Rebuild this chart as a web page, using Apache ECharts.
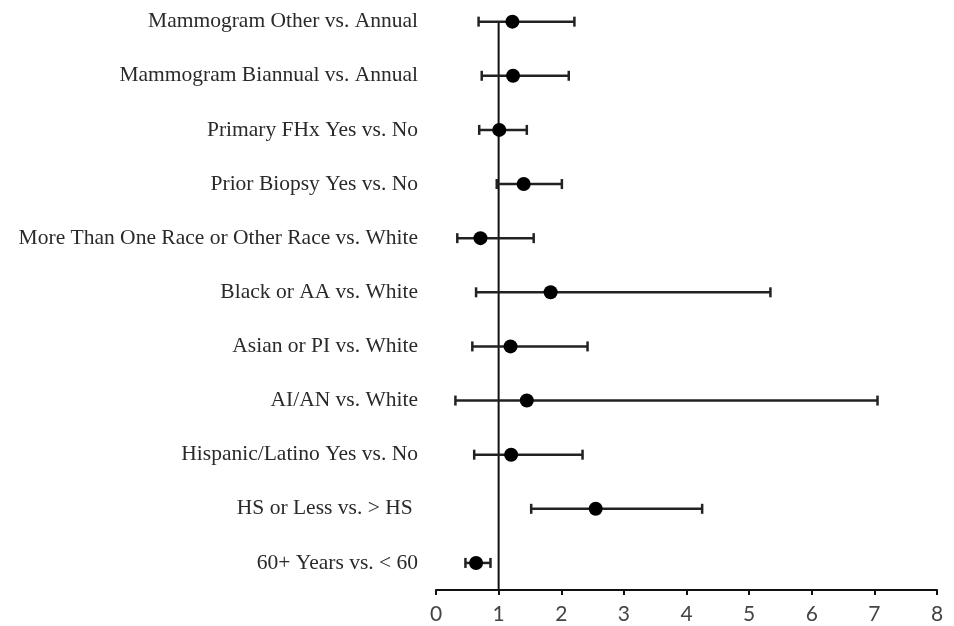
<!DOCTYPE html>
<html>
<head>
<meta charset="utf-8">
<script src="https://cdn.jsdelivr.net/npm/echarts@6/dist/echarts.min.js"></script>
<style>
html, body { margin: 0; padding: 0; background: #fff; }
#main { width: 954px; height: 626px; }
</style>
</head>
<body>
<div id="main"></div>
<script>
// 类别（从上到下）
var categories = [
	'Mammogram Other vs. Annual',
	'Mammogram Biannual vs. Annual',
	'Primary FHx Yes vs. No',
	'Prior Biopsy Yes vs. No',
	'More Than One Race or Other Race vs. White',
	'Black or AA vs. White',
	'Asian or PI vs. White',
	'AI/AN vs. White',
	'Hispanic/Latino Yes vs. No',
	'HS or Less vs. > HS ',
	'60+ Years vs. < 60'
];
// 点估计
var oddsRatio = [1.22, 1.23, 1.01, 1.40, 0.71, 1.83, 1.19, 1.45, 1.20, 2.55, 0.64];
// 置信区间
var lowerCI = [0.68, 0.73, 0.69, 0.97, 0.34, 0.64, 0.58, 0.31, 0.61, 1.52, 0.47];
var upperCI = [2.21, 2.12, 1.45, 2.01, 1.56, 5.34, 2.42, 7.05, 2.34, 4.25, 0.87];
// 参考线
var refValue = 1;
var xTicks = [0, 1, 2, 3, 4, 5, 6, 7, 8];

var rowIdx = [];
var errData = [];
var dotData = [];
for (var i = 0; i < categories.length; i++) {
	rowIdx.push(i);
	errData.push([lowerCI[i], upperCI[i], i]);
	dotData.push([oddsRatio[i], i]);
}

var myChart = echarts.init(document.getElementById('main'));
var option = {
	animation : false,
	backgroundColor : '#ffffff',
	grid : {
		left : 436,
		right : 17,
		top : 0,
		bottom : 36
	},
	xAxis : {
		type : 'value',
		position : 'bottom',
		min : xTicks[0],
		max : xTicks[xTicks.length - 1],
		interval : 1,
		splitLine : { show : false },
		axisLine : { show : true, onZero : false, lineStyle : { color : '#111', width : 2 } },
		axisTick : { show : true, length : 5, lineStyle : { color : '#111', width : 2 } },
		axisLabel : {
			margin : 14,
			color : '#444',
			fontSize : 21,
			fontFamily : 'Lato'
		}
	},
	yAxis : {
		type : 'value',
		inverse : true,
		min : -0.4,
		max : 10.5,
		axisLine : { show : false, onZero : false },
		axisTick : { show : false },
		splitLine : { show : false },
		axisLabel : {
			margin : 18,
			color : '#2a2a2a',
			fontSize : 21.5,
			fontFamily : 'Liberation Serif',
			customValues : rowIdx,
			formatter : function(v) {
				return categories[Math.round(v)];
			}
		}
	},
	series : [ {
		// 参考线 x=1
		type : 'custom',
		silent : true,
		data : [ [ refValue, 0 ] ],
		renderItem : function(params, api) {
			var top = api.coord([ api.value(0), api.value(1) ]);
			var cs = params.coordSys;
			return {
				type : 'line',
				shape : { x1 : top[0], y1 : top[1], x2 : top[0], y2 : cs.y + cs.height },
				style : { stroke : '#111', lineWidth : 2 }
			};
		},
		encode : { x : 0, y : 1 },
		z : 1
	}, {
		// 误差线
		type : 'custom',
		data : errData,
		renderItem : function(params, api) {
			var lo = api.coord([ api.value(0), api.value(2) ]);
			var hi = api.coord([ api.value(1), api.value(2) ]);
			var h = 5;
			var st = { stroke : '#222', lineWidth : 2.5 };
			return {
				type : 'group',
				children : [ {
					type : 'line',
					shape : { x1 : lo[0], y1 : lo[1], x2 : hi[0], y2 : hi[1] },
					style : st
				}, {
					type : 'line',
					shape : { x1 : lo[0], y1 : lo[1] - h, x2 : lo[0], y2 : lo[1] + h },
					style : st
				}, {
					type : 'line',
					shape : { x1 : hi[0], y1 : hi[1] - h, x2 : hi[0], y2 : hi[1] + h },
					style : st
				} ]
			};
		},
		encode : { x : [ 0, 1 ], y : 2 },
		z : 2
	}, {
		// 点估计
		type : 'scatter',
		data : dotData,
		symbol : 'circle',
		symbolSize : 14,
		itemStyle : { color : '#000', opacity : 1 },
		z : 3
	} ]
};
myChart.setOption(option);
</script>
</body>
</html>
